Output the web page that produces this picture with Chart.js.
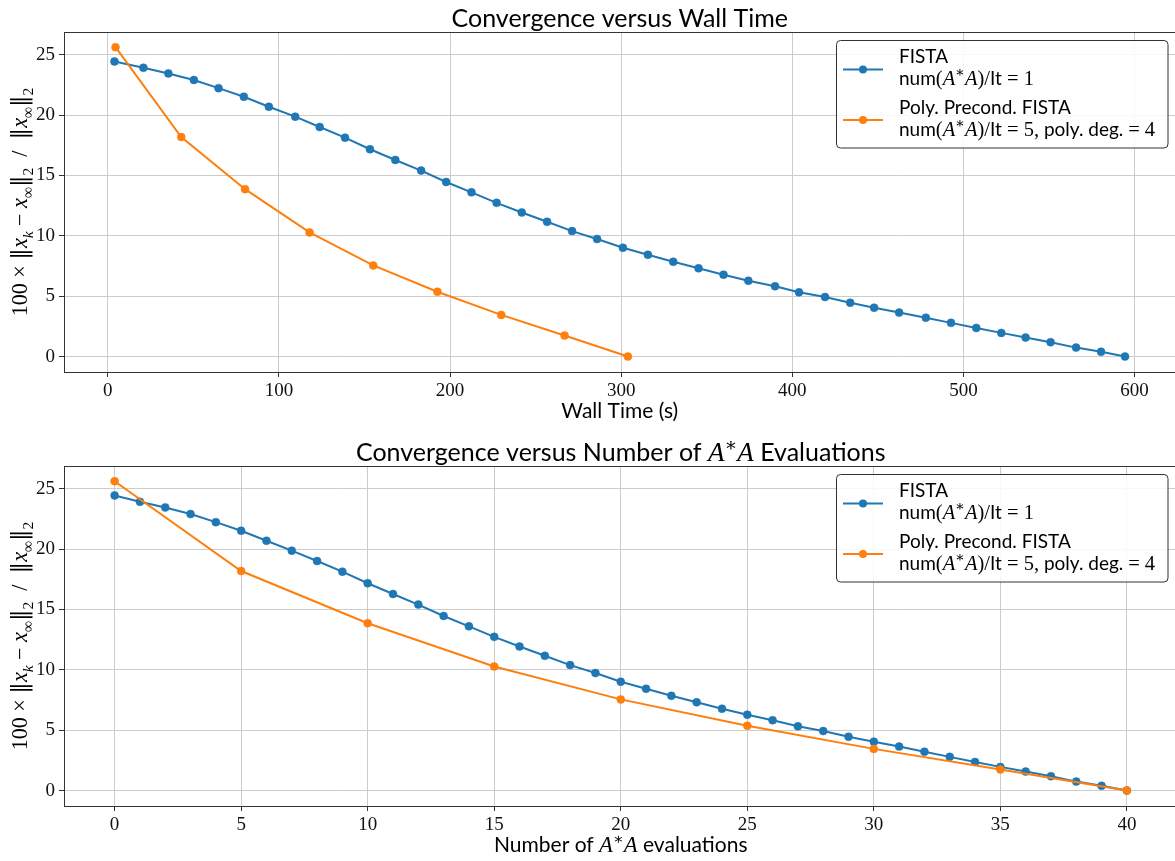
<!DOCTYPE html>
<html>
<head>
<meta charset="utf-8">
<title>Convergence</title>
<script src="https://cdn.jsdelivr.net/npm/chart.js@4.4.0/dist/chart.umd.min.js"></script>
<style>
  html, body { margin: 0; padding: 0; background: #fff; overflow: hidden; }
  body { width: 1175px; height: 861px; position: relative; }
  canvas { position: absolute; left: 0; }
</style>
</head>
<body>
<canvas id="wallChart" width="1180" height="430" style="top:0"></canvas>
<canvas id="evalChart" width="1182" height="431" style="top:430px"></canvas>
<script>
// FISTA: wall time (s), number of A*A evaluations, 100 x relative error
const fistaTime = [3.9, 20.8, 35.4, 50.3, 64.7, 79.5, 94.1, 109.5, 123.8, 138.6, 153.2, 168.0, 183.1, 197.7, 212.5, 227.2, 241.9, 256.7, 271.3, 285.9, 301.0, 315.6, 330.4, 345.2, 359.8, 374.3, 389.9, 403.9, 419.1, 433.8, 447.8, 462.4, 478.0, 492.7, 507.5, 522.1, 536.3, 550.9, 565.8, 580.4, 594.4];
const fistaEvals = [0, 1, 2, 3, 4, 5, 6, 7, 8, 9, 10, 11, 12, 13, 14, 15, 16, 17, 18, 19, 20, 21, 22, 23, 24, 25, 26, 27, 28, 29, 30, 31, 32, 33, 34, 35, 36, 37, 38, 39, 40];
const fistaErr = [24.44, 23.92, 23.45, 22.90, 22.23, 21.52, 20.69, 19.87, 19.01, 18.13, 17.17, 16.28, 15.40, 14.46, 13.60, 12.73, 11.93, 11.16, 10.39, 9.73, 9.01, 8.43, 7.85, 7.31, 6.78, 6.28, 5.82, 5.32, 4.93, 4.46, 4.05, 3.64, 3.22, 2.79, 2.37, 1.96, 1.57, 1.19, 0.74, 0.39, 0.0];

// Polynomial preconditioned FISTA (5 A*A evaluations per iteration)
const polyTime = [4.5, 42.9, 80.2, 117.9, 155.1, 192.6, 229.9, 266.9, 303.9];
const polyEvals = [0, 5, 10, 15, 20, 25, 30, 35, 40];
const polyErr = [25.62, 18.18, 13.86, 10.28, 7.55, 5.37, 3.45, 1.74, 0.0];

// tick labels
const wallTicks = [0, 100, 200, 300, 400, 500, 600];
const evalTicks = [0, 5, 10, 15, 20, 25, 30, 35, 40];
const errTicks = [0, 5, 10, 15, 20, 25];

const seriesNames = ["FISTA", "Poly. Precond. FISTA"];
const seriesColors = ["#1f77b4", "#ff7f0e"];

const SANS = 'Lato, "DejaVu Sans", sans-serif';
const SERIF = '"Liberation Serif", "DejaVu Serif", serif';
const BARS = '"DejaVu Serif", serif';

// little helpers for text that mixes sans, roman and italic math
const S = (t) => ({ t });
const R = (t) => ({ t, f: "rm" });
const I = (t) => ({ t, f: "it" });
const N = () => ({ t: "‖", f: "nb" });
const sub = (t, f) => ({ t, f: f || "it", sub: true });
const sup = (t) => ({ t, f: "rm", sup: true });
const AstarA = [I("A"), sup("∗"), I("A")];

function segFont(seg, size) {
  let s = seg.f ? size * 1.08 : size;
  if (seg.sub || seg.sup) s *= 0.7;
  if (seg.f === "nb") return (s * 1.05).toFixed(1) + "px " + BARS;
  return (seg.f === "it" ? "italic " : "") + s.toFixed(1) + "px " + (seg.f ? SERIF : SANS);
}
function segShift(seg, size) {
  if (seg.sub) return size * 0.28;
  if (seg.sup) return -size * 0.4;
  return 0;
}
function richWidth(ctx, segs, size) {
  let w = 0;
  for (const seg of segs) {
    ctx.font = segFont(seg, size);
    w += ctx.measureText(seg.t).width;
  }
  return w;
}
function drawRich(ctx, segs, x, y, size, align) {
  let cx = align === "center" ? x - richWidth(ctx, segs, size) / 2 : x;
  ctx.textAlign = "left";
  ctx.textBaseline = "alphabetic";
  ctx.fillStyle = "#000";
  for (const seg of segs) {
    ctx.font = segFont(seg, size);
    ctx.fillText(seg.t, cx, y + segShift(seg, size));
    cx += ctx.measureText(seg.t).width;
  }
}

const yLabel = [R("100 × "), N(), I("x"), sub("k"), R(" − "), I("x"), sub("∞", "rm"), N(), sub("2", "rm"),
  R("  /  "), N(), I("x"), sub("∞", "rm"), N(), sub("2", "rm")];

const legendLines = [
  [[S(seriesNames[0])], [S("num"), R("("), ...AstarA, R(")/"), S("It"), R(" = 1")]],
  [[S(seriesNames[1])], [S("num"), R("("), ...AstarA, R(")/"), S("It"), R(" = 5,"), S(" poly. deg. "), R("= 4")]],
];

// frame, titles, axis labels and legend
const decorPlugin = {
  id: "decor",
  afterDraw(chart, args, opts) {
    const { ctx, chartArea: a } = chart;
    ctx.save();
    ctx.strokeStyle = "#333";
    ctx.lineWidth = 1;
    ctx.strokeRect(Math.round(a.left) + 0.5, Math.round(a.top) + 0.5,
      Math.round(a.right - a.left), Math.round(a.bottom - a.top));

    const cx = (a.left + a.right) / 2;
    drawRich(ctx, opts.title, cx, a.top - 5, 25, "center");
    drawRich(ctx, opts.xLabel, cx, a.bottom + 46, 21, "center");

    ctx.save();
    ctx.translate(27, (a.top + a.bottom) / 2);
    ctx.rotate(-Math.PI / 2);
    drawRich(ctx, yLabel, 0, 0, 20.5, "center");
    ctx.restore();

    // legend box
    const bx = 836.5, by = a.top + 8.5, bw = 331.5, bh = 107.5;
    ctx.beginPath();
    ctx.roundRect(bx, by, bw, bh, 4);
    ctx.fillStyle = "rgba(255,255,255,0.85)";
    ctx.fill();
    ctx.strokeStyle = "#333";
    ctx.stroke();
    legendLines.forEach((lines, i) => {
      const ly = by + 29 + i * 50.5;
      ctx.strokeStyle = seriesColors[i];
      ctx.lineWidth = 2;
      ctx.beginPath();
      ctx.moveTo(843, ly);
      ctx.lineTo(883, ly);
      ctx.stroke();
      ctx.fillStyle = seriesColors[i];
      ctx.beginPath();
      ctx.arc(863, ly, 4, 0, Math.PI * 2);
      ctx.fill();
      drawRich(ctx, lines[0], 899, by + 22.5 + i * 50.5, 19, "left");
      drawRich(ctx, lines[1], 899, by + 44.5 + i * 50.5, 19, "left");
    });
    ctx.restore();
  },
};

function makeChart(id, xsFista, xsPoly, xTicks, cfg) {
  const pts = (xs, ys) => xs.map((x, i) => ({ x, y: ys[i] }));
  const gridStyle = { color: "#cccccc", lineWidth: 1, tickLength: 5, tickColor: "#333", drawTicks: true };
  const tickFont = { family: SERIF, size: 19 };
  return new Chart(document.getElementById(id), {
    type: "line",
    plugins: [decorPlugin],
    data: {
      datasets: [
        {
          label: seriesNames[0],
          data: pts(xsFista, fistaErr),
          borderColor: seriesColors[0],
          backgroundColor: seriesColors[0],
          borderWidth: 2,
          pointRadius: 4,
          pointBorderWidth: 0.5,
          order: 2,
        },
        {
          label: seriesNames[1],
          data: pts(xsPoly, polyErr),
          borderColor: seriesColors[1],
          backgroundColor: seriesColors[1],
          borderWidth: 2,
          pointRadius: 4,
          pointBorderWidth: 0.5,
          order: 1,
        },
      ],
    },
    options: {
      responsive: false,
      animation: false,
      layout: { padding: { top: cfg.top, right: cfg.right, left: 0, bottom: 0 } },
      plugins: {
        legend: { display: false },
        tooltip: { enabled: false },
        decor: { title: cfg.title, xLabel: cfg.xLabel },
      },
      scales: {
        x: {
          type: "linear",
          min: cfg.xMin,
          max: cfg.xMax,
          afterBuildTicks: (s) => { s.ticks = xTicks.map((v) => ({ value: v })); },
          afterFit: (s) => { s.height = cfg.xAxisHeight; },
          grid: gridStyle,
          border: { display: false },
          ticks: { font: tickFont, color: "#111", padding: 3, maxRotation: 0, autoSkip: false, callback: (v) => String(v) },
        },
        y: {
          min: -1.28,
          max: 26.88,
          afterBuildTicks: (s) => { s.ticks = errTicks.map((v) => ({ value: v })); },
          afterFit: (s) => { s.width = 64; },
          grid: gridStyle,
          border: { display: false },
          ticks: { font: tickFont, color: "#111", padding: 4, callback: (v) => String(v) },
        },
      },
    },
  });
}

makeChart("wallChart", fistaTime, polyTime, wallTicks, {
  top: 32, right: 3, xAxisHeight: 58, xMin: -25.6, xMax: 623.9,
  title: [S("Convergence versus Wall Time")],
  xLabel: [S("Wall Time (s)")],
});

makeChart("evalChart", fistaEvals, polyEvals, evalTicks, {
  top: 36, right: 2, xAxisHeight: 55, xMin: -2, xMax: 42,
  title: [S("Convergence versus Number of "), ...AstarA, S(" Evaluations")],
  xLabel: [S("Number of "), ...AstarA, S(" evaluations")],
});
</script>
</body>
</html>
